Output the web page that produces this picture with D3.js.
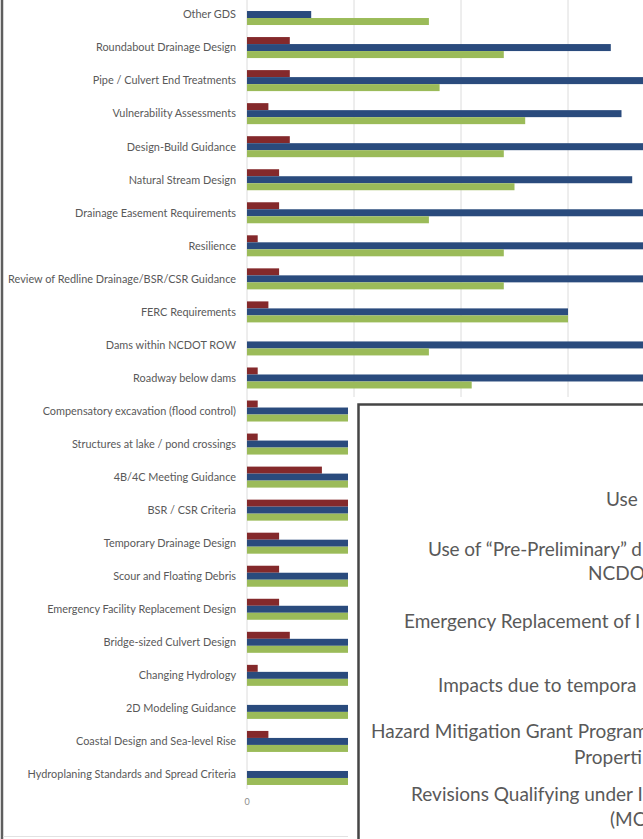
<!DOCTYPE html>
<html>
<head>
<meta charset="utf-8">
<script src="https://cdn.jsdelivr.net/npm/d3@7"></script>
<style>
  html, body { margin: 0; padding: 0; background: #fff; }
  svg { display: block; }
</style>
</head>
<body>
<svg id="chart" width="643" height="839"></svg>
<script>
// ---- data ----
const categories = [
  "Other GDS",
  "Roundabout Drainage Design",
  "Pipe / Culvert End Treatments",
  "Vulnerability Assessments",
  "Design-Build Guidance",
  "Natural Stream Design",
  "Drainage Easement Requirements",
  "Resilience",
  "Review of Redline Drainage/BSR/CSR Guidance",
  "FERC Requirements",
  "Dams within NCDOT ROW",
  "Roadway below dams",
  "Compensatory excavation (flood control)",
  "Structures at lake / pond crossings",
  "4B/4C Meeting Guidance",
  "BSR / CSR Criteria",
  "Temporary Drainage Design",
  "Scour and Floating Debris",
  "Emergency Facility Replacement Design",
  "Bridge-sized Culvert Design",
  "Changing Hydrology",
  "2D Modeling Guidance",
  "Coastal Design and Sea-level Rise",
  "Hydroplaning Standards and Spread Criteria"
];
const redValues   = [0, 4, 4, 2, 4, 3, 3, 1, 3, 2, 0, 1, 1, 1, 7, 12, 3, 3, 3, 4, 1, 0, 2, 0];
const blueValues  = [6, 34, 40, 35, 39, 36, 38, 41, 38, 30, 40, 38, 25, 24, 27, 28, 26, 25, 24, 26, 27, 24, 25, 28];
const greenValues = [17, 24, 18, 26, 24, 25, 17, 24, 24, 30, 17, 21, 22, 21, 23, 24, 22, 21, 22, 23, 24, 22, 21, 23];
const seriesKeys   = ["red", "blue", "green"];
const xTicks = [0, 10, 20, 30, 40];
const xTickLabels = [0];   // only this tick label is visible; the rest lie under the box

// visible (cropped) text of the overlapping box
const boxTexts = [
  "Use",
  "Use of \u201cPre-Preliminary\u201d d",
  "NCDOT",
  "Emergency Replacement of I",
  "Impacts due to tempora",
  "Hazard Mitigation Grant Program",
  "Properti",
  "Revisions Qualifying under I",
  "(MC"
];

// ---- layout / style ----
const seriesColors = ["#84292b", "#2a4b7d", "#9bbb59"];
const boxTextPos = [
  [606, 506], [428, 556], [588, 580], [404, 628], [438, 692],
  [371, 738], [574, 764], [411, 801], [610, 826]
];
const boxTextLen = [null, 214, null, null, null, null, null, null, null];

// ---- drawing ----
const svg = d3.select("#chart");

const x = d3.scaleLinear().domain([0, 40]).range([247, 675]);
const y = d3.scaleBand().domain(categories).range([-2, 791]).padding(0);
const ySub = d3.scaleBand().domain(seriesKeys).range([-10.5, 10.5]).padding(0);

// gridlines
svg.append("g").selectAll("line").data(xTicks).join("line")
  .attr("x1", d => x(d)).attr("x2", d => x(d))
  .attr("y1", 0).attr("y2", 789)
  .attr("stroke", "#dcdcdc").attr("stroke-width", 1);

// bars
const rows = categories.map((c, i) => ({ c, vals: [redValues[i], blueValues[i], greenValues[i]] }));
const g = svg.append("g");
rows.forEach(r => {
  const cy = y(r.c) + y.bandwidth() / 2;
  seriesKeys.forEach((k, j) => {
    if (r.vals[j] <= 0) return;
    g.append("rect")
      .attr("x", x(0))
      .attr("y", cy + ySub(k))
      .attr("width", x(r.vals[j]) - x(0))
      .attr("height", ySub.bandwidth())
      .attr("fill", seriesColors[j]);
  });
});

// category labels
svg.append("g").selectAll("text").data(categories).join("text")
  .attr("x", 236)
  .attr("y", d => y(d) + y.bandwidth() / 2)
  .attr("dy", "0.35em")
  .attr("text-anchor", "end")
  .attr("font-family", "Lato, 'Open Sans', sans-serif")
  .attr("font-size", "10.9px")
  .attr("fill", "#595959")
  .text(d => d);

// x tick labels
svg.append("g").selectAll("text").data(xTickLabels).join("text")
  .attr("x", d => x(d))
  .attr("y", 805)
  .attr("text-anchor", "middle")
  .attr("font-family", "Lato, sans-serif")
  .attr("font-size", "9px")
  .attr("fill", "#8c8c8c")
  .text(d => d);

// chart frame
svg.append("line").attr("x1", 2).attr("x2", 2).attr("y1", 0).attr("y2", 839)
  .attr("stroke", "#5e5e5e").attr("stroke-width", 2.5);
svg.append("line").attr("x1", 3).attr("x2", 348).attr("y1", 836.5).attr("y2", 836.5)
  .attr("stroke", "#e2e2e2").attr("stroke-width", 1);

// overlapping white panel with its bordered box
svg.append("rect").attr("x", 348).attr("y", 397).attr("width", 300).attr("height", 450)
  .attr("fill", "#fff");
svg.append("rect").attr("x", 358.5).attr("y", 404.5).attr("width", 300).attr("height", 450)
  .attr("fill", "#fff").attr("stroke", "#454545").attr("stroke-width", 2.5);

const bt = svg.append("g").selectAll("text").data(boxTexts).join("text")
  .attr("x", (d, i) => boxTextPos[i][0]).attr("y", (d, i) => boxTextPos[i][1])
  .attr("font-family", "Lato, 'Open Sans', sans-serif")
  .attr("font-size", "19px")
  .attr("fill", "#595959")
  .text(d => d);
bt.filter((d, i) => boxTextLen[i] != null)
  .attr("textLength", (d, i) => boxTextLen[boxTexts.indexOf(d)])
  .attr("lengthAdjust", "spacing");
</script>
</body>
</html>
